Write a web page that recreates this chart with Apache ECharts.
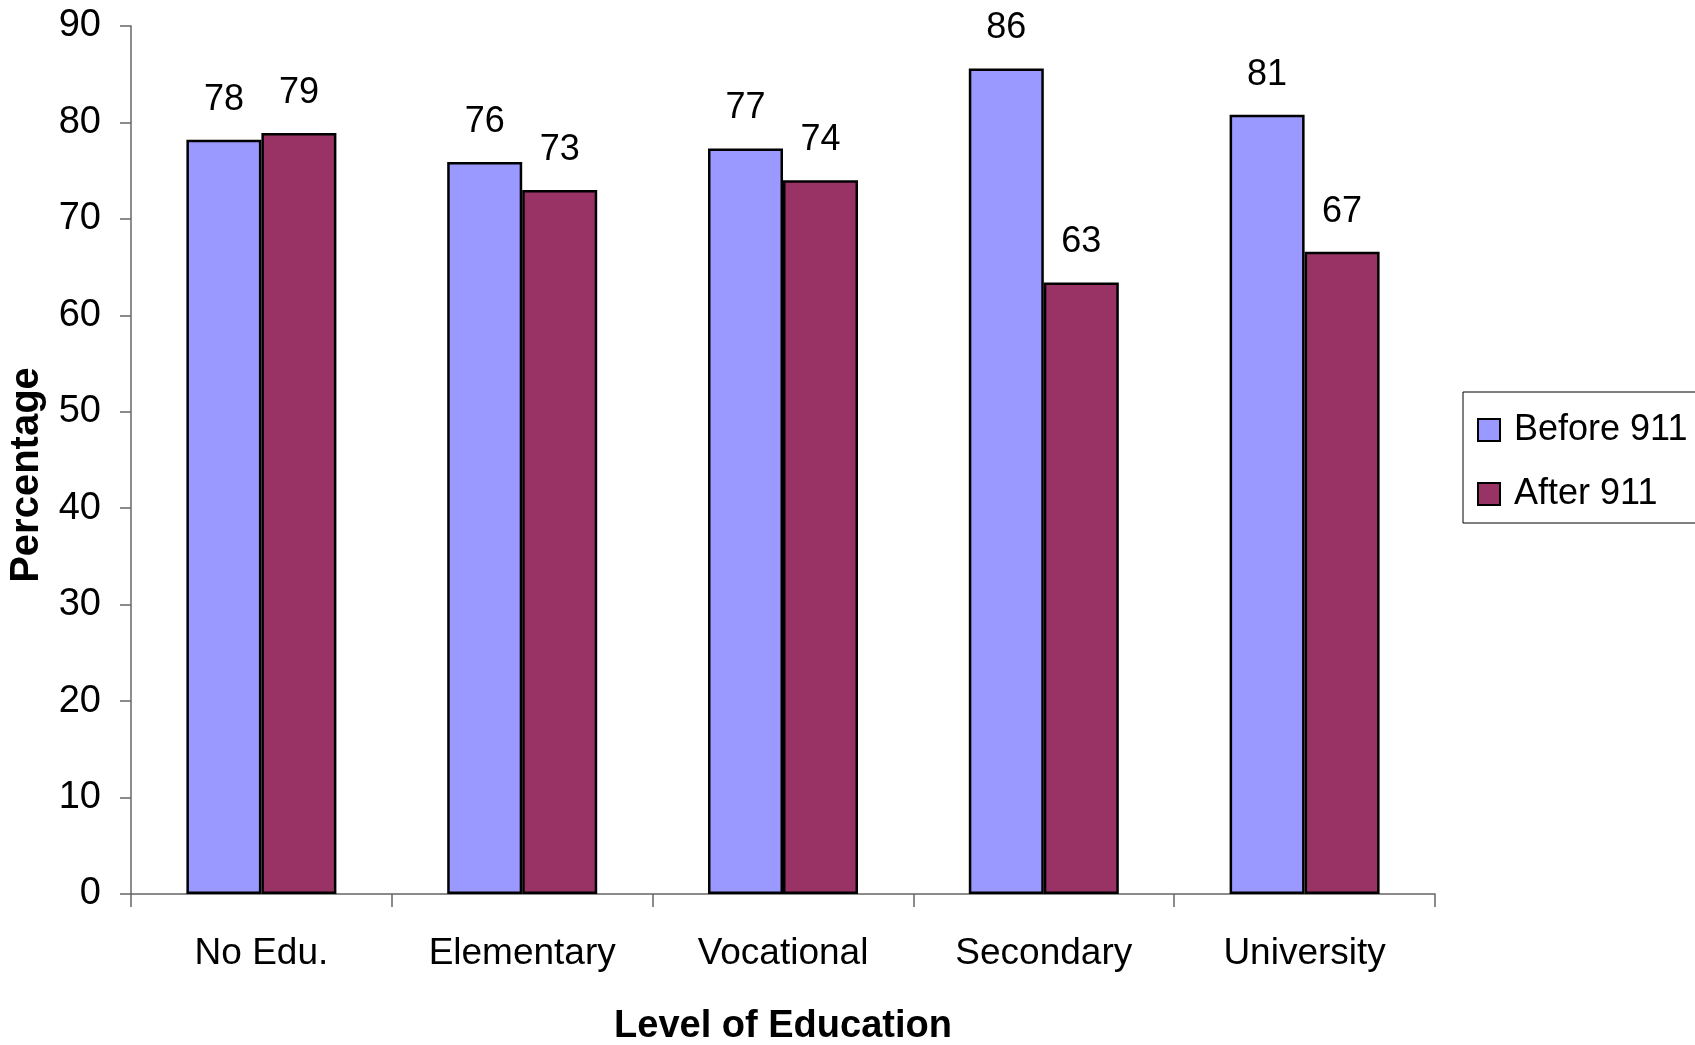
<!DOCTYPE html>
<html>
<head>
<meta charset="utf-8">
<script src="https://cdn.jsdelivr.net/npm/echarts@6/dist/echarts.min.js"></script>
<style>
  html, body { margin: 0; padding: 0; background: #fff; }
  #chart { width: 1695px; height: 1045px; }
</style>
</head>
<body>
<div id="chart"></div>
<script>
const categories = ['No Edu.', 'Elementary', 'Vocational', 'Secondary', 'University'];
const before911 = [78.2, 75.9, 77.3, 85.6, 80.8];
const after911 = [78.9, 73.0, 74.0, 63.4, 66.6];
const seriesNames = ['Before 911', 'After 911'];
const yTicks = { min: 0, max: 90, interval: 10 };

const font = '"Liberation Sans", Arial, sans-serif';

const chart = echarts.init(document.getElementById('chart'), null, { renderer: 'canvas' });

const labelCfg = {
  show: true,
  position: 'top',
  distance: 22,
  color: '#000',
  fontFamily: font,
  fontSize: 36,
  formatter: p => Math.round(p.value)
};

chart.setOption({
  animation: false,
  backgroundColor: '#fff',
  grid: { left: 131, right: 260, top: 26, bottom: 151, containLabel: false, outerBoundsMode: 'none' },
  legend: {
    orient: 'vertical',
    left: 1463,
    top: 392,
    data: seriesNames,
    itemWidth: 22,
    itemHeight: 22,
    itemGap: 28,
    padding: [20, 30, 11, 14],
    borderColor: '#000',
    borderWidth: 1,
    icon: 'rect',
    textStyle: { fontFamily: font, fontSize: 36, color: '#000', padding: [0, 0, 0, 9] },
    itemStyle: { borderColor: '#000', borderWidth: 2 }
  },
  xAxis: {
    type: 'category',
    data: categories,
    boundaryGap: true,
    axisLine: { show: true, lineStyle: { color: '#666', width: 1.5 } },
    axisTick: { show: true, length: 13, inside: false, lineStyle: { color: '#666', width: 1.5 } },
    axisLabel: { interval: 0, margin: 41, color: '#000', fontFamily: font, fontSize: 37 },
    name: 'Level of Education',
    nameLocation: 'middle',
    nameGap: 114,
    nameTextStyle: { fontFamily: font, fontWeight: 'bold', fontSize: 38, color: '#000' }
  },
  yAxis: {
    type: 'value',
    min: yTicks.min,
    max: yTicks.max,
    interval: yTicks.interval,
    splitLine: { show: false },
    axisLine: { show: true, lineStyle: { color: '#666', width: 1.5 } },
    axisTick: { show: true, length: 11, lineStyle: { color: '#666', width: 1.5 } },
    axisLabel: { margin: 30, color: '#000', fontFamily: font, fontSize: 38 },
    name: 'Percentage',
    nameLocation: 'middle',
    nameGap: 84,
    nameTextStyle: { fontFamily: font, fontWeight: 'bold', fontSize: 40, color: '#000', padding: [0, 30, 0, 0] }
  },
  series: [
    {
      name: seriesNames[0],
      type: 'bar',
      data: before911,
      barWidth: 75,
      barGap: '0%',
      itemStyle: { color: '#9999FF', borderColor: '#000', borderWidth: 2.5 },
      label: labelCfg
    },
    {
      name: seriesNames[1],
      type: 'bar',
      data: after911,
      barWidth: 75,
      barGap: '0%',
      itemStyle: { color: '#993366', borderColor: '#000', borderWidth: 2.5 },
      label: labelCfg
    }
  ]
});
</script>
</body>
</html>
